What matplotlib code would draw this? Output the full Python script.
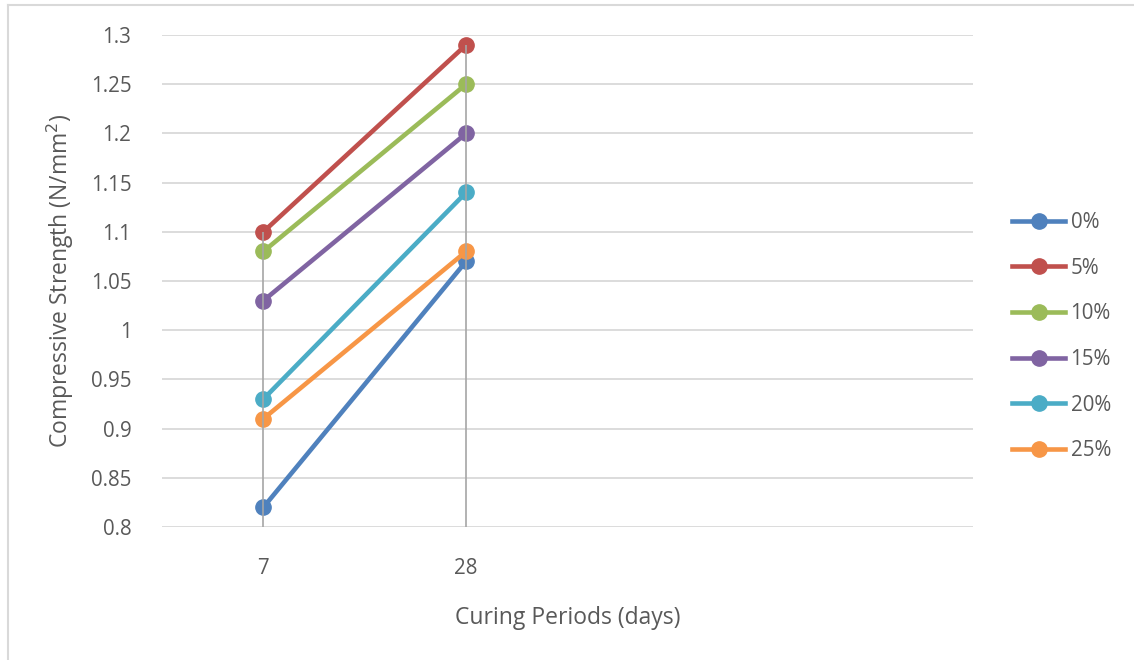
import matplotlib.pyplot as plt
import numpy as np
from matplotlib.lines import Line2D

plt.rcParams["font.family"] = ["Open Sans", "DejaVu Sans"]

# curing period categories (two empty slots follow, as in the source sheet)
periods = ["7", "28", "", ""]
replacements = ["0%", "5%", "10%", "15%", "20%", "25%"]
strength_0 = [0.82, 1.07]
strength_5 = [1.10, 1.29]
strength_10 = [1.08, 1.25]
strength_15 = [1.03, 1.20]
strength_20 = [0.93, 1.14]
strength_25 = [0.91, 1.08]
y_ticks = [0.8, 0.85, 0.9, 0.95, 1.0, 1.05, 1.1, 1.15, 1.2, 1.25, 1.3]
y_tick_labels = ["0.8", "0.85", "0.9", "0.95", "1", "1.05", "1.1", "1.15", "1.2", "1.25", "1.3"]

colors = ["#4F81BD", "#C0504D", "#9BBB59", "#8064A2", "#4BACC6", "#F79646"]
series = [strength_0, strength_5, strength_10, strength_15, strength_20, strength_25]

fig = plt.figure(figsize=(11.34, 6.6), dpi=100)
ax = fig.add_axes([162 / 1134, 1 - 527 / 660, (973 - 162) / 1134, (527 - 35) / 660])

x = np.arange(len(strength_0))
for vals, c, lab in zip(series, colors, replacements):
    ax.plot(x, vals, color=c, lw=3.3, marker="o", ms=11, label=lab, zorder=3,
            solid_capstyle="round")

# drop lines from the top point of each category to the axis
tops = np.max(np.array(series), axis=0)
ax.vlines(x, 0.8, tops, color="#a6a6a6", lw=1.2, zorder=4)

ax.set_xlim(-0.5, 3.5)
ax.set_ylim(0.8, 1.3)
ax.set_xticks(np.arange(len(periods)))
ax.set_xticklabels(periods)
ax.set_yticks(y_ticks)
ax.set_yticklabels(y_tick_labels)
ax.tick_params(length=0, labelsize=14.8, labelcolor="#595959")
ax.tick_params(axis="y", pad=22)
ax.tick_params(axis="x", pad=22)
ax.grid(axis="y", color="#d9d9d9", lw=1.3, zorder=0)
for s in ax.spines.values():
    s.set_visible(False)

ax.set_ylabel("Compressive Strength (N/mm$^2$)", fontsize=16.5, color="#595959", labelpad=11)
ax.set_xlabel("Curing Periods (days)", fontsize=16.5, color="#595959", labelpad=20)

handles = [Line2D([], [], color=c, lw=3.3, marker="o", ms=11) for c in colors]
fig.legend(handles, replacements, loc="upper left", bbox_to_anchor=(1012 / 1134, 1 - 212 / 660),
           frameon=False, fontsize=14.8, labelcolor="#595959", handlelength=2.6,
           handletextpad=0.25, labelspacing=1.2, borderaxespad=0, borderpad=0)

# chart border (left and top edges visible)
fig.add_artist(Line2D([8 / 1134, 8 / 1134], [0, 1 - 5 / 660], color="#d9d9d9", lw=1.5))
fig.add_artist(Line2D([8 / 1134, 1], [1 - 5 / 660, 1 - 5 / 660], color="#d9d9d9", lw=1.5))

fig.savefig("out.png", dpi=100)
